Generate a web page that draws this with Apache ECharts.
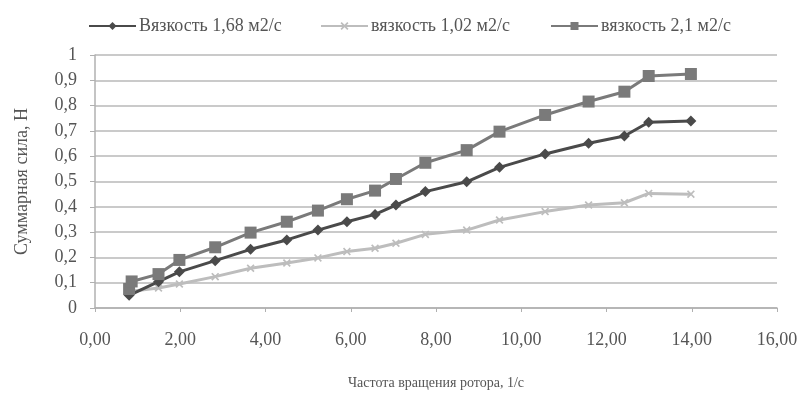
<!DOCTYPE html>
<html><head><meta charset="utf-8">
<script src="https://cdn.jsdelivr.net/npm/echarts@6/dist/echarts.min.js"></script>
<style>html,body{margin:0;padding:0;background:#fff}#c{width:804px;height:401px}</style>
</head><body><div id="c"></div>
<script>
const seriesNames = ['Вязкость 1,68 м2/с', 'вязкость 1,02 м2/с', 'вязкость 2,1 м2/с'];
const visc168 = [[0.8,0.05],[1.49,0.104],[1.98,0.143],[2.82,0.187],[3.65,0.232],[4.5,0.269],[5.23,0.308],[5.91,0.341],[6.57,0.37],[7.06,0.407],[7.75,0.46],[8.72,0.499],[9.49,0.556],[10.56,0.609],[11.58,0.651],[12.42,0.68],[12.99,0.734],[13.98,0.739]];
const visc102 = [[0.8,0.065],[1.49,0.079],[1.98,0.095],[2.82,0.124],[3.65,0.157],[4.5,0.178],[5.23,0.198],[5.91,0.223],[6.57,0.236],[7.06,0.256],[7.75,0.291],[8.72,0.308],[9.49,0.348],[10.56,0.381],[11.58,0.407],[12.42,0.416],[12.99,0.453],[13.98,0.45]];
const visc21 = [[0.8,0.075],[0.86,0.105],[1.49,0.134],[1.98,0.19],[2.82,0.24],[3.65,0.298],[4.5,0.341],[5.23,0.385],[5.91,0.43],[6.57,0.464],[7.06,0.51],[7.75,0.574],[8.72,0.624],[9.49,0.697],[10.56,0.763],[11.58,0.816],[12.42,0.855],[12.99,0.917],[13.98,0.925]];
const xTitle = 'Частота вращения ротора, 1/с';
const yTitle = 'Суммарная сила, Н';

const font = 'Liberation Serif';
const txt = '#555';
const chart = echarts.init(document.getElementById('c'));
const xMark = 'path://M0,1.5L1.5,0L5,3.5L8.5,0L10,1.5L6.5,5L10,8.5L8.5,10L5,6.5L1.5,10L0,8.5L3.5,5Z';
const legendLefts = [83, 315, 545];
chart.setOption({
  animation: false,
  backgroundColor: '#fff',
  textStyle: {fontFamily: font},
  legend: seriesNames.map((n, i) => ({
    top: 12, left: legendLefts[i], itemWidth: 47, itemHeight: 10, itemGap: 4,
    textStyle: {fontFamily: font, fontSize: 18, color: txt, padding: [0, 0, 0, -2]},
    data: [n]
  })),
  grid: {left: 95, right: 27, top: 55, bottom: 93},
  xAxis: {
    type: 'value', min: 0, max: 16, interval: 2,
    name: xTitle, nameLocation: 'middle', nameGap: 68,
    nameTextStyle: {fontFamily: font, fontSize: 14, color: txt},
    axisLine: {show: true, lineStyle: {color: '#b0b0b0', width: 1.5}},
    axisTick: {show: true, length: 4, lineStyle: {color: '#b0b0b0'}},
    splitLine: {show: false},
    axisLabel: {fontFamily: font, fontSize: 18, color: txt, margin: 23,
      formatter: v => v.toFixed(2).replace('.', ',')}
  },
  yAxis: {
    type: 'value', min: 0, max: 1, interval: 0.1,
    name: yTitle, nameLocation: 'middle', nameGap: 64, nameRotate: 90,
    nameTextStyle: {fontFamily: font, fontSize: 18, color: txt},
    axisLine: {show: true, lineStyle: {color: '#b0b0b0', width: 1.5}},
    axisTick: {show: true, length: 5, lineStyle: {color: '#b0b0b0'}},
    splitLine: {show: true, lineStyle: {color: '#cacaca', width: 2}},
    axisLabel: {fontFamily: font, fontSize: 18, color: txt, margin: 18,
      formatter: v => String(Math.round(v * 10) / 10).replace('.', ',')}
  },
  series: [
    {name: seriesNames[0], type: 'line', data: visc168, symbol: 'diamond', symbolSize: 11,
      lineStyle: {color: '#4a4a4a', width: 3}, itemStyle: {color: '#4a4a4a'}, z: 3},
    {name: seriesNames[1], type: 'line', data: visc102, symbol: xMark, symbolSize: 8,
      lineStyle: {color: '#bdbdbd', width: 3}, itemStyle: {color: '#bdbdbd'}, z: 2},
    {name: seriesNames[2], type: 'line', data: visc21, symbol: 'rect', symbolSize: 12,
      lineStyle: {color: '#7a7a7a', width: 3}, itemStyle: {color: '#7a7a7a'}, z: 4}
  ]
});
</script></body></html>
